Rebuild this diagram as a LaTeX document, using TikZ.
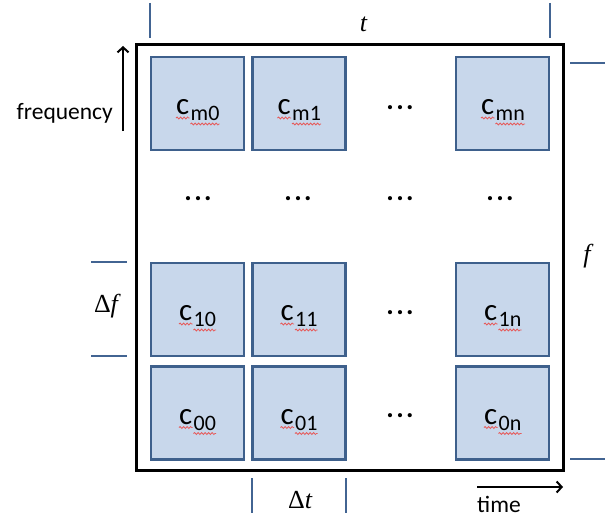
\documentclass[tikz,border=0pt]{standalone}
\usepackage{fontspec}
\setmainfont{Carlito}
\newfontfamily\mathlike{Liberation Serif}
\usetikzlibrary{decorations.pathmorphing,arrows.meta}
\definecolor{cellfill}{RGB}{200,215,235}
\definecolor{cellline}{RGB}{62,96,140}
\definecolor{tickblue}{RGB}{66,100,146}
\definecolor{squigred}{RGB}{230,90,90}
\newcommand\mkcell[4]{% name, center, subscript, split offset
  \node[cellbox] (c#1) at (#2) {};
  \node[cmain, anchor=base east] (c#1c) at ([xshift=#4pt,yshift=-11pt]c#1.center) {c};
  \node[csub, anchor=base west] (c#1s) at ([xshift=#4pt+1pt,yshift=-17pt]c#1.center) {#3};
  \draw[squig] ([yshift=-3.5pt]c#1c.base west) -- ([yshift=-3.5pt]c#1c.base east);
  \draw[squig] ([yshift=-3.5pt]c#1s.base west) -- ([yshift=-3.5pt]c#1s.base east);
}
\begin{document}
\begin{tikzpicture}[x=1pt,y=-1pt,
  cellbox/.style={draw=cellline, fill=cellfill, line width=2.6pt, minimum width=93pt, minimum height=93pt, inner sep=0pt},
  cmain/.style={inner sep=0pt, font=\fontsize{31}{33}\selectfont},
  csub/.style={inner sep=0pt, font=\fontsize{22}{24}\selectfont},
  squig/.style={draw=squigred, line width=0.8pt, decorate, decoration={snake, segment length=3.5pt, amplitude=1pt}},
  dotsnode/.style={inner sep=0pt, font=\bfseries\fontsize{28}{30}\selectfont},
  tick/.style={draw=tickblue, line width=2.4pt},
  arr/.style={draw=black, line width=2pt, -{Straight Barb[length=5pt, width=11pt, line width=2pt]}},
  mathlbl/.style={inner sep=0pt, font=\mathlike\fontsize{26}{28}\selectfont},
  wordlbl/.style={inner sep=0pt, font=\fontsize{23.5}{25}\selectfont}
]
\useasboundingbox (0,0) rectangle (609,519);
% outer frame
\node[draw=black, line width=3pt, minimum width=427pt, minimum height=425pt, inner sep=0pt] (frame) at (350,257.5) {};
% cells
\mkcell{m0}{197.5,103.5}{m0}{-8}
\mkcell{m1}{299,103.5}{m1}{-8}
\mkcell{mn}{502.5,103.5}{mn}{-8}
\mkcell{10}{197.5,309.5}{10}{-5}
\mkcell{11}{299,309.5}{11}{-5}
\mkcell{1n}{502.5,309.5}{1n}{-5}
\mkcell{00}{197.5,413}{00}{-5}
\mkcell{01}{299,413}{01}{-5}
\mkcell{0n}{502.5,413}{0n}{-5}
% dots
\node[dotsnode] (dr1) at (198,199) {.\kern2.5pt.\kern2.5pt.};
\node[dotsnode] (dr2) at (298,199) {.\kern2.5pt.\kern2.5pt.};
\node[dotsnode] (dr3) at (400,199) {.\kern2.5pt.\kern2.5pt.};
\node[dotsnode] (dr4) at (500,199) {.\kern2.5pt.\kern2.5pt.};
\node[dotsnode] (dcm) at (400,108) {.\kern2.5pt.\kern2.5pt.};
\node[dotsnode] (dc1) at (400,313) {.\kern2.5pt.\kern2.5pt.};
\node[dotsnode] (dc0) at (400,416) {.\kern2.5pt.\kern2.5pt.};
% dimension ticks
\coordinate (tA1) at (150,3);  \coordinate (tA2) at (150,38);
\coordinate (tB1) at (550,3);  \coordinate (tB2) at (550,38);
\coordinate (rA1) at (570,63); \coordinate (rA2) at (605,63);
\coordinate (rB1) at (570,459); \coordinate (rB2) at (605,459);
\coordinate (lA1) at (91,262); \coordinate (lA2) at (127,262);
\coordinate (lB1) at (91,356); \coordinate (lB2) at (127,356);
\coordinate (bA1) at (252,478); \coordinate (bA2) at (252,513);
\coordinate (bB1) at (346,478); \coordinate (bB2) at (346,513);
\draw[tick] (tA1) -- (tA2);
\draw[tick] (tB1) -- (tB2);
\draw[tick] (rA1) -- (rA2);
\draw[tick] (rB1) -- (rB2);
\draw[tick] (lA1) -- (lA2);
\draw[tick] (lB1) -- (lB2);
\draw[tick] (bA1) -- (bA2);
\draw[tick] (bB1) -- (bB2);
% math labels
\node[mathlbl] (lt) at (363.5,24) {\itshape t};
\node[mathlbl] (lf) at (587,256) {\itshape f};
\node[mathlbl] (ldf) at (106,306) {Δ\itshape f};
\node[mathlbl] (ldt) at (300,500) {Δ\itshape t};
% axis arrows
\coordinate (fa1) at (123,131); \coordinate (fa2) at (123,46);
\draw[arr] (fa1) -- (fa2);
\node[wordlbl, anchor=base east] (lfreq) at (113,119) {frequency};
\coordinate (ta1) at (477,487); \coordinate (ta2) at (563,487);
\draw[arr] (ta1) -- (ta2);
\node[wordlbl, anchor=base west] (ltime) at (477,512) {time};
\end{tikzpicture}
\end{document}
